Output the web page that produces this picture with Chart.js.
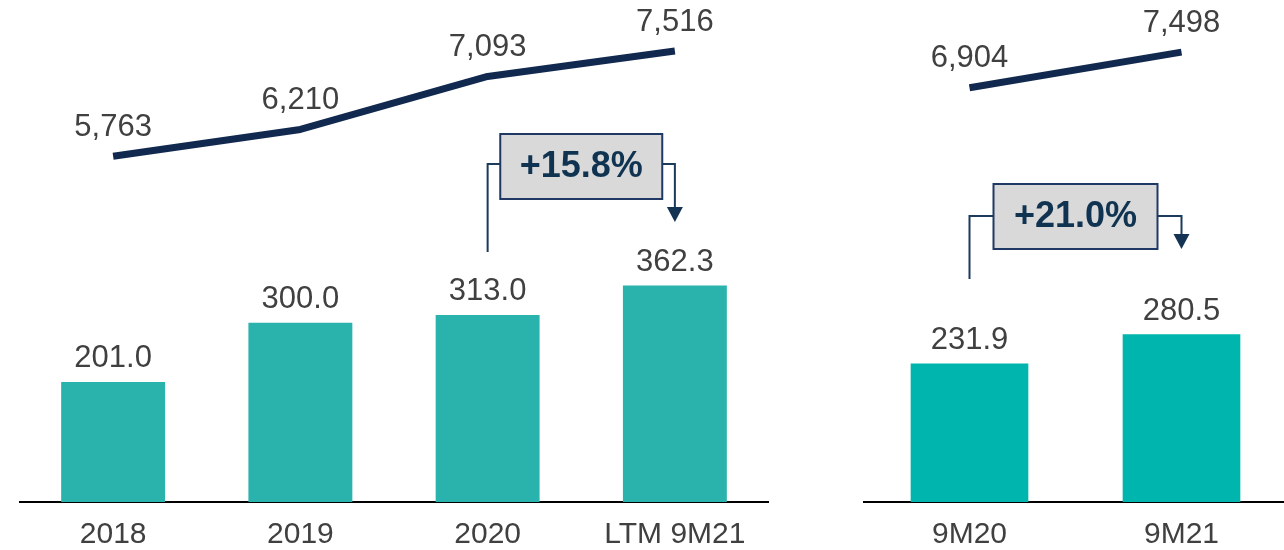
<!DOCTYPE html>
<html>
<head>
<meta charset="utf-8">
<script src="https://cdn.jsdelivr.net/npm/chart.js@4"></script>
<style>
  html, body { margin: 0; padding: 0; background: #fff; overflow: hidden; }
  body { width: 1284px; height: 550px; position: relative; }
  canvas { position: absolute; top: 0; }
  #annual { left: 0; }
  #ytd { left: 850px; }
</style>
</head>
<body>
<canvas id="annual" width="800" height="568"></canvas>
<canvas id="ytd" width="450" height="568"></canvas>
<script>
// annual figures
const annualLabels = ["2018", "2019", "2020", "LTM 9M21"];
const annualBars = [201.0, 300.0, 313.0, 362.3];
const annualLine = [5763, 6210, 7093, 7516];

// nine-month figures
const ytdLabels = ["9M20", "9M21"];
const ytdBars = [231.9, 280.5];
const ytdLine = [6904, 7498];

const FONT = "'Liberation Sans', Arial, sans-serif";
const TEXT = "#404040";
const NAVY = "#12294F";

// value labels above bars and line points
const valueLabels = {
  id: "valueLabels",
  afterDatasetsDraw(chart) {
    const ctx = chart.ctx;
    ctx.save();
    ctx.font = "31px " + FONT;
    ctx.fillStyle = TEXT;
    ctx.textAlign = "center";
    ctx.textBaseline = "middle";
    chart.data.datasets.forEach((ds, i) => {
      const meta = chart.getDatasetMeta(i);
      meta.data.forEach((el, j) => {
        const v = ds.data[j];
        if (ds.type === "line") {
          ctx.fillText(v.toLocaleString("en-US"), el.x, el.y - 29);
        } else {
          ctx.fillText(v.toFixed(1), el.x, el.y - 23);
        }
      });
    });
    ctx.restore();
  }
};

// growth box with connector and arrow between two bars
const growthCallout = {
  id: "growthCallout",
  afterDraw(chart, args, opts) {
    const ctx = chart.ctx;
    const x = chart.scales.x;
    const bars = chart.data.datasets[0].data;
    const x0 = x.getPixelForValue(opts.from);
    const x1 = x.getPixelForValue(opts.to);
    const pct = (bars[opts.to] / bars[opts.from] - 1) * 100;
    const mid = (x0 + x1) / 2;
    const bx = mid - opts.boxW / 2;

    ctx.save();
    ctx.strokeStyle = "#1B3A5C";
    ctx.lineWidth = 2;
    ctx.beginPath();
    ctx.moveTo(x0, opts.startY);
    ctx.lineTo(x0, opts.lineY);
    ctx.lineTo(bx, opts.lineY);
    ctx.moveTo(bx + opts.boxW, opts.lineY);
    ctx.lineTo(x1, opts.lineY);
    ctx.lineTo(x1, opts.tipY - 14);
    ctx.stroke();

    ctx.fillStyle = "#153454";
    ctx.beginPath();
    ctx.moveTo(x1 - 8, opts.tipY - 15);
    ctx.lineTo(x1 + 8, opts.tipY - 15);
    ctx.lineTo(x1, opts.tipY);
    ctx.closePath();
    ctx.fill();

    ctx.fillStyle = "#D9D9D9";
    ctx.fillRect(bx, opts.boxY, opts.boxW, opts.boxH);
    ctx.strokeStyle = "#1F3864";
    ctx.strokeRect(bx, opts.boxY, opts.boxW, opts.boxH);

    ctx.fillStyle = "#0F3350";
    ctx.font = "bold 36px " + FONT;
    ctx.textAlign = "center";
    ctx.textBaseline = "middle";
    ctx.fillText("+" + pct.toFixed(1) + "%", mid, opts.boxY + opts.boxH / 2 + 1);
    ctx.restore();
  }
};

function makeChart(id, labels, bars, line, barColor, pad, callout) {
  return new Chart(document.getElementById(id), {
    data: {
      labels: labels,
      datasets: [
        {
          type: "bar",
          data: bars,
          backgroundColor: barColor,
          yAxisID: "y",
          categoryPercentage: 1,
          barPercentage: 0.555,
          order: 2
        },
        {
          type: "line",
          data: line,
          yAxisID: "y2",
          borderColor: NAVY,
          borderWidth: 7,
          borderCapStyle: "butt",
          borderJoinStyle: "round",
          pointRadius: 0,
          tension: 0,
          clip: false,
          order: 1
        }
      ]
    },
    options: {
      responsive: false,
      animation: false,
      layout: { padding: pad },
      plugins: {
        legend: { display: false },
        tooltip: { enabled: false },
        growthCallout: callout
      },
      scales: {
        x: {
          offset: true,
          grid: { display: false, drawTicks: false },
          border: { display: true, color: "#000", width: 2 },
          ticks: { color: TEXT, font: { family: FONT, size: 30 }, padding: 15 }
        },
        y: { display: false, min: 0, max: 840 },
        y2: { display: false, min: 0, max: 8367 }
      }
    },
    plugins: [valueLabels, growthCallout]
  });
}

makeChart("annual", annualLabels, annualBars, annualLine, "#2AB3AD",
  { left: 19.5, right: 31.5, top: 0, bottom: 0 },
  { from: 2, to: 3, boxW: 162, boxH: 65, boxY: 134, lineY: 164, startY: 252, tipY: 222 });

makeChart("ytd", ytdLabels, ytdBars, ytdLine, "#00B5AE",
  { left: 13.5, right: 12.5, top: 0, bottom: 0 },
  { from: 0, to: 1, boxW: 164, boxH: 65, boxY: 184, lineY: 216, startY: 279, tipY: 249 });
</script>
</body>
</html>
